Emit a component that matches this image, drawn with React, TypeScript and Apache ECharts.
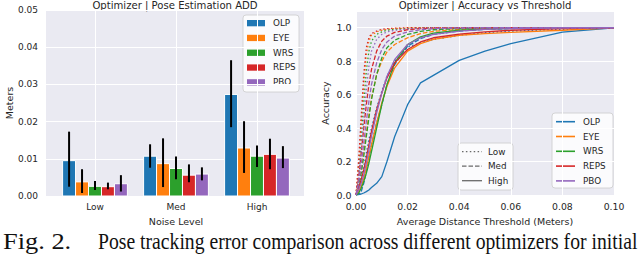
import React, { useEffect, useRef } from 'react';
import * as echarts from 'echarts';

const noiseLevels = ['Low', 'Med', 'High'];
const optimizers = ['OLP', 'EYE', 'WRS', 'REPS', 'PBO'];
const palette = ['#1f77b4', '#ff7f0e', '#2ca02c', '#d62728', '#9467bd'];

// Pose estimation ADD (meters), rows = optimizers, cols = noise levels
const addMean = [
  [0.0095, 0.0107, 0.0273],
  [0.0038, 0.0087, 0.0129],
  [0.0026, 0.0074, 0.0107],
  [0.0025, 0.0056, 0.0112],
  [0.0033, 0.0059, 0.0102],
];
const addCiLow = [
  [0.0025, 0.0076, 0.0185],
  [0.0008, 0.0024, 0.0062],
  [0.0016, 0.0045, 0.0078],
  [0.0018, 0.0037, 0.0072],
  [0.0012, 0.0042, 0.0075],
];
const addCiHigh = [
  [0.0173, 0.0139, 0.0365],
  [0.0072, 0.0155, 0.0201],
  [0.0040, 0.0106, 0.0136],
  [0.0036, 0.0085, 0.0154],
  [0.0056, 0.0077, 0.0134],
];

// Accuracy vs threshold
const thresholds = [0, 0.001, 0.002, 0.003, 0.004, 0.005, 0.006, 0.008, 0.010, 0.012, 0.015, 0.020, 0.025, 0.030, 0.040, 0.050, 0.060, 0.080, 0.100];
const accLow = [
  [0, 0.04, 0.10, 0.17, 0.25, 0.33, 0.40, 0.52, 0.62, 0.71, 0.80, 0.885, 0.91, 0.93, 0.955, 0.97, 0.98, 0.99, 1.0],
  [0, 0.18, 0.42, 0.66, 0.84, 0.92, 0.955, 0.975, 0.985, 0.99, 0.995, 0.998, 1, 1, 1, 1, 1, 1, 1],
  [0, 0.12, 0.32, 0.55, 0.74, 0.86, 0.92, 0.96, 0.975, 0.985, 0.99, 0.995, 0.998, 1, 1, 1, 1, 1, 1],
  [0, 0.2, 0.46, 0.72, 0.88, 0.94, 0.965, 0.98, 0.99, 0.994, 0.997, 1, 1, 1, 1, 1, 1, 1, 1],
  [0, 0.1, 0.26, 0.45, 0.63, 0.77, 0.86, 0.93, 0.96, 0.975, 0.985, 0.993, 0.997, 1, 1, 1, 1, 1, 1],
];
const accMed = [
  [0, 0.005, 0.02, 0.07, 0.14, 0.22, 0.3, 0.43, 0.54, 0.66, 0.78, 0.89, 0.935, 0.96, 0.98, 0.99, 0.995, 1, 1],
  [0, 0.06, 0.15, 0.26, 0.37, 0.48, 0.58, 0.72, 0.8, 0.855, 0.9, 0.94, 0.965, 0.978, 0.99, 0.995, 0.998, 1, 1],
  [0, 0.05, 0.13, 0.23, 0.35, 0.46, 0.57, 0.72, 0.82, 0.88, 0.925, 0.96, 0.978, 0.988, 0.995, 0.998, 1, 1, 1],
  [0, 0.1, 0.25, 0.4, 0.54, 0.66, 0.75, 0.86, 0.92, 0.95, 0.972, 0.988, 0.995, 0.998, 1, 1, 1, 1, 1],
  [0, 0.07, 0.18, 0.31, 0.44, 0.56, 0.66, 0.79, 0.87, 0.915, 0.95, 0.975, 0.988, 0.994, 0.998, 1, 1, 1, 1],
];
const accHigh = [
  [0, 0.003, 0.006, 0.012, 0.02, 0.03, 0.045, 0.07, 0.11, 0.2, 0.35, 0.54, 0.67, 0.715, 0.805, 0.86, 0.905, 0.974, 1.0],
  [0, 0.02, 0.05, 0.1, 0.16, 0.23, 0.3, 0.43, 0.55, 0.65, 0.76, 0.86, 0.905, 0.93, 0.955, 0.965, 0.972, 0.985, 1.0],
  [0, 0.01, 0.04, 0.08, 0.13, 0.19, 0.26, 0.4, 0.54, 0.66, 0.79, 0.9, 0.945, 0.968, 0.985, 0.992, 0.996, 1, 1],
  [0, 0.04, 0.09, 0.15, 0.22, 0.3, 0.38, 0.51, 0.61, 0.7, 0.79, 0.87, 0.915, 0.94, 0.962, 0.975, 0.985, 0.995, 1],
  [0, 0.03, 0.07, 0.12, 0.19, 0.27, 0.35, 0.49, 0.61, 0.71, 0.81, 0.9, 0.94, 0.96, 0.98, 0.99, 0.995, 1, 1],
];
const noiseStyles = [[1.5, 2.4], [4.5, 2], 'solid'];

const FONT = 'DejaVu Sans';
const TXT = '#262626';
const BG = '#EAEAF2';

export default function App() {
  const ref = useRef<HTMLDivElement>(null);
  useEffect(() => {
    document.body.style.margin = '0';
    const chart = echarts.init(ref.current!, null, { renderer: 'svg' });

    const barSeries = optimizers.map((name, i) => ({
      type: 'custom',
      name,
      xAxisIndex: 1,
      yAxisIndex: 1,
      clip: false,
      itemStyle: { color: palette[i] },
      data: noiseLevels.map((_, c) => [c, addMean[i][c], addCiLow[i][c], addCiHigh[i][c]]),
      renderItem: (params: any, api: any) => {
        const c = api.value(0);
        const off = (i - 2) * 0.16;
        const p0 = api.coord([c + off - 0.08, 0]);
        const p1 = api.coord([c + off + 0.08, api.value(1)]);
        const lo = api.coord([c + off, api.value(2)]);
        const hi = api.coord([c + off, api.value(3)]);
        return {
          type: 'group',
          children: [
            {
              type: 'rect',
              shape: { x: p0[0], y: p1[1], width: p1[0] - p0[0], height: p0[1] - p1[1] },
              style: { fill: palette[i], stroke: '#ffffff', lineWidth: 1 },
            },
            {
              type: 'line',
              shape: { x1: lo[0], y1: lo[1], x2: hi[0], y2: hi[1] },
              style: { stroke: '#000000', lineWidth: 2 },
            },
          ],
        };
      },
    }));

    const lineSeries: any[] = [];
    optimizers.forEach((name, i) => {
      [accLow, accMed, accHigh].forEach((acc, n) => {
        lineSeries.push({
          type: 'line',
          name: name + ' ' + noiseLevels[n],
          xAxisIndex: 2,
          yAxisIndex: 2,
          showSymbol: false,
          symbol: 'none',
          data: thresholds.map((t, k) => [t, acc[i][k]]),
          lineStyle: { color: palette[i], width: 1.3, type: noiseStyles[n] },
        });
      });
    });

    const axisText = { color: TXT, fontFamily: FONT, fontSize: 9 };
    const nameText = { color: TXT, fontFamily: FONT, fontSize: 9.5 };
    const split = { show: true, lineStyle: { color: '#ffffff', width: 1 } };

    const graphics: any[] = [];
    graphics.push({ type: 'text', x: 175, y: 5, style: { text: 'Optimizer | Pose Estimation ADD', align: 'center', verticalAlign: 'middle', fill: TXT, font: '10.1px "DejaVu Sans"' } });
    graphics.push({ type: 'text', x: 485, y: 5, style: { text: 'Optimizer | Accuracy vs Threshold', align: 'center', verticalAlign: 'middle', fill: TXT, font: '10.1px "DejaVu Sans"' } });

    // left legend
    graphics.push({ type: 'rect', shape: { x: 243, y: 15, width: 56, height: 77, r: 3 }, style: { fill: 'rgba(255,255,255,0.8)', stroke: '#cccccc', lineWidth: 0.8 } });
    optimizers.forEach((name, i) => {
      const y = 23 + i * 14.8;
      graphics.push({ type: 'rect', shape: { x: 247, y: y - 3, width: 18, height: 6.3 }, style: { fill: palette[i] } });
      graphics.push({ type: 'text', x: 273, y, style: { text: name, verticalAlign: 'middle', fill: TXT, font: '8.8px "DejaVu Sans"' } });
    });

    // right colour legend
    graphics.push({ type: 'rect', shape: { x: 552, y: 113, width: 61, height: 75, r: 3 }, style: { fill: 'rgba(255,255,255,0.8)', stroke: '#cccccc', lineWidth: 0.8 } });
    optimizers.forEach((name, i) => {
      const y = 121.7 + i * 14.8;
      graphics.push({ type: 'line', shape: { x1: 556, y1: y, x2: 575, y2: y }, style: { stroke: palette[i], lineWidth: 1.6, lineDash: [] } });
      graphics.push({ type: 'text', x: 583, y, style: { text: name, verticalAlign: 'middle', fill: TXT, font: '8.8px "DejaVu Sans"' } });
    });

    // right style legend
    graphics.push({ type: 'rect', shape: { x: 458, y: 143, width: 55, height: 47, r: 3 }, style: { fill: 'rgba(255,255,255,0.8)', stroke: '#cccccc', lineWidth: 0.8 } });
    noiseLevels.forEach((name, n) => {
      const y = 151.7 + n * 14.5;
      const st = noiseStyles[n];
      graphics.push({ type: 'line', shape: { x1: 462, y1: y, x2: 482, y2: y }, style: { stroke: '#6a6a6a', lineWidth: 1.3, lineDash: st === 'solid' ? [] : st } });
      graphics.push({ type: 'text', x: 488, y, style: { text: name, verticalAlign: 'middle', fill: TXT, font: '8.8px "DejaVu Sans"' } });
    });

    // caption
    graphics.push({ type: 'text', x: 3, y: 240.5, scaleX: 1.1, style: { text: 'Fig. 2.', verticalAlign: 'middle', fill: '#111111', font: '24px "Liberation Serif"' } });
    graphics.push({ type: 'text', x: 98, y: 240.5, scaleX: 0.82, style: { text: 'Pose tracking error comparison across different optimizers for initial', verticalAlign: 'middle', fill: '#111111', font: '24px "Liberation Serif"' } });

    chart.setOption({
      animation: false,
      grid: [
        { left: 46, top: 10, width: 258, height: 186, show: true, backgroundColor: BG, borderWidth: 0 },
        { left: 95, top: 10, width: 162, height: 186, show: false },
        { left: 356, top: 11, width: 258, height: 184, show: true, backgroundColor: BG, borderWidth: 0 },
      ],
      xAxis: [
        { type: 'value', gridIndex: 0, min: 0, max: 1, show: false },
        {
          type: 'value', gridIndex: 1, min: 0, max: 2, interval: 1,
          axisLine: { show: false }, axisTick: { show: false }, splitLine: split,
          axisLabel: { ...axisText, margin: 6, formatter: (v: number) => noiseLevels[Math.round(v)] ?? '' },
          name: 'Noise Level', nameLocation: 'middle', nameGap: 20, nameTextStyle: nameText,
        },
        {
          type: 'value', gridIndex: 2, min: 0, max: 0.1, interval: 0.02,
          axisLine: { show: false }, axisTick: { show: false }, splitLine: split,
          axisLabel: { ...axisText, fontSize: 9.3, margin: 7, formatter: (v: number) => v.toFixed(2) },
          name: 'Average Distance Threshold (Meters)', nameLocation: 'middle', nameGap: 21.5, nameTextStyle: nameText,
        },
      ],
      yAxis: [
        {
          type: 'value', gridIndex: 0, min: 0, max: 0.05, interval: 0.01,
          axisLine: { show: false }, axisTick: { show: false }, splitLine: split,
          axisLabel: { ...axisText, margin: 8, formatter: (v: number) => v.toFixed(2) },
          name: 'Meters', nameLocation: 'middle', nameGap: 30, nameTextStyle: nameText,
        },
        { type: 'value', gridIndex: 1, min: 0, max: 0.05, show: false },
        {
          type: 'value', gridIndex: 2, min: 0, max: 1.1, interval: 0.2,
          axisLine: { show: false }, axisTick: { show: false }, splitLine: split,
          axisLabel: { ...axisText, fontSize: 9.5, margin: 4.5, showMaxLabel: false, formatter: (v: number) => (v > 1.05 ? '' : v.toFixed(1)) },
          name: 'Accuracy', nameLocation: 'middle', nameGap: 26, nameTextStyle: nameText,
        },
      ],
      series: [...barSeries, ...lineSeries],
      graphic: graphics,
    });
    return () => chart.dispose();
  }, []);
  return <div ref={ref} style={{ width: 640, height: 254 }} />;
}
